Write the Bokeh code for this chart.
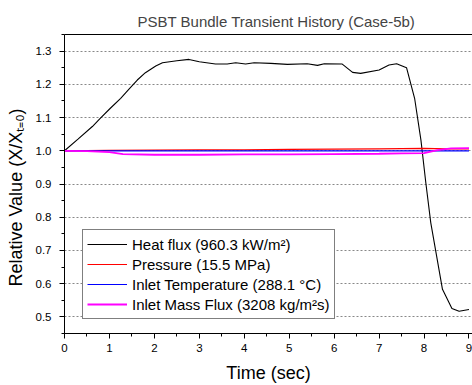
from bokeh.plotting import figure
from bokeh.models import (Range1d, FixedTicker, PrintfTickFormatter, Legend, LegendItem,
                          LinearAxis, Title)
from bokeh.embed import file_html
from bokeh.resources import INLINE

# ---- data ----
heat_t = [0, 0.3, 0.62, 0.8, 1.02, 1.25, 1.45, 1.62, 1.8, 2.03, 2.18, 2.5, 2.77, 3.0,
          3.36, 3.62, 3.81, 4.03, 4.22, 4.59, 4.96, 5.4, 5.63, 5.78, 6.18, 6.41, 6.59,
          7.0, 7.22, 7.39, 7.61, 7.79, 7.93, 8.04, 8.15, 8.41, 8.62, 8.78, 9.0]
heat_v = [1.0, 1.035, 1.073, 1.098, 1.128, 1.158, 1.188, 1.213, 1.235, 1.255, 1.265, 1.271,
          1.275, 1.268, 1.261, 1.261, 1.265, 1.261, 1.265, 1.263, 1.260, 1.262, 1.257, 1.262,
          1.261, 1.236, 1.233, 1.243, 1.258, 1.262, 1.250, 1.158, 1.033, 0.903, 0.783,
          0.583, 0.525, 0.517, 0.522]

pres_t = [0, 1, 2, 3, 4, 5, 6, 7, 8, 8.5, 9]
pres_v = [1.0, 1.001, 1.002, 1.003, 1.003, 1.004, 1.005, 1.006, 1.007, 1.006, 1.006]

temp_t = [0, 1, 2, 3, 4, 5, 6, 7, 8, 9]
temp_v = [1.0, 1.0, 1.0, 1.0, 1.0, 1.0, 1.0, 1.0, 1.0, 1.0]

mass_t = [0, 0.5, 1.0, 1.3, 2, 3, 4, 5, 6, 7, 7.5, 8.0, 8.3, 8.6, 9.0]
mass_v = [1.0, 0.999, 0.996, 0.990, 0.988, 0.988, 0.989, 0.989, 0.990, 0.991, 0.992,
          0.993, 1.002, 1.007, 1.008]

series_labels = ["Heat flux (960.3 kW/m²)", "Pressure (15.5 MPa)",
                 "Inlet Temperature (288.1 °C)", "Inlet Mass Flux (3208 kg/m²s)"]
x_ticks = [0, 1, 2, 3, 4, 5, 6, 7, 8, 9]
y_ticks = [0.5, 0.6, 0.7, 0.8, 0.9, 1.0, 1.1, 1.2, 1.3]

FONT = "Liberation Sans"

p = figure(width=472, height=385, output_backend="svg", toolbar_location=None,
           x_range=Range1d(0, 9.078), y_range=Range1d(0.45, 1.35),
           min_border_left=64, min_border_right=0, min_border_bottom=51, min_border_top=34,
           title=None)
p.outline_line_color = None
p.background_fill_color = "white"
p.border_fill_color = "white"

# axes (configure the default ones before adding the top border axis)
xa = p.below[0]
ya = p.left[0]
xa.ticker = FixedTicker(ticks=x_ticks, minor_ticks=[i * 0.5 for i in range(0, 19)])
ya.ticker = FixedTicker(ticks=y_ticks, minor_ticks=[0.45 + 0.05 * i for i in range(0, 19)])
ya.formatter = PrintfTickFormatter(format="%.1f")

for ax in (xa, ya):
    ax.axis_line_color = "black"
    ax.axis_line_width = 1
    ax.major_tick_line_color = "black"
    ax.minor_tick_line_color = "black"
    ax.major_tick_in = 0
    ax.major_tick_out = 5
    ax.minor_tick_in = 0
    ax.minor_tick_out = 3
    ax.major_label_text_font = FONT
    ax.major_label_text_font_size = "11.5px"
    ax.major_label_text_color = "black"
    ax.axis_label_text_font = FONT
    ax.axis_label_text_font_size = "18px"
    ax.axis_label_text_font_style = "normal"
    ax.axis_label_text_color = "black"

xa.axis_label = "Time (sec)"
xa.major_label_standoff = 5
xa.axis_label_standoff = 8
# trailing spaces shift the centred rotated label down, as in the reference
ya.axis_label = "Relative Value (X/Xₜ₌₀)\u2003\u2002"
ya.major_label_standoff = 8
ya.axis_label_standoff = 7

# top frame line (no ticks, no labels)
top_axis = LinearAxis(ticker=FixedTicker(ticks=[]), major_tick_line_color=None,
                      minor_tick_line_color=None, axis_line_color="black",
                      axis_line_width=1, major_label_standoff=0)
p.add_layout(top_axis, "above")

p.add_layout(Title(text="PSBT Bundle Transient History (Case-5b)", align="left",
                   text_font=FONT, text_font_size="15px", text_font_style="normal",
                   offset=73), "above")

p.xgrid.grid_line_color = None
p.ygrid.ticker = FixedTicker(ticks=y_ticks)
p.ygrid.grid_line_color = "#888888"
p.ygrid.grid_line_dash = "2 2"
p.ygrid.grid_line_width = 1

r_heat = p.line(heat_t, heat_v, line_color="black", line_width=1.1)
r_pres = p.line(pres_t, pres_v, line_color="red", line_width=1.2)
r_temp = p.line(temp_t, temp_v, line_color="blue", line_width=1.2)
r_mass = p.line(mass_t, mass_v, line_color="magenta", line_width=1.8)

legend = Legend(items=[LegendItem(label=series_labels[0], renderers=[r_heat]),
                       LegendItem(label=series_labels[1], renderers=[r_pres]),
                       LegendItem(label=series_labels[2], renderers=[r_temp]),
                       LegendItem(label=series_labels[3], renderers=[r_mass])],
                location=(18, 14))
legend.border_line_color = "black"
legend.border_line_width = 1
legend.background_fill_alpha = 1
legend.label_text_font = FONT
legend.label_text_font_size = "15px"
legend.label_text_color = "black"
legend.glyph_width = 40
legend.glyph_height = 20
legend.label_height = 20
legend.label_standoff = 5
legend.spacing = 0
legend.padding = 4
legend.margin = 0
p.add_layout(legend)

open("out.html", "w").write(file_html(p, INLINE))
